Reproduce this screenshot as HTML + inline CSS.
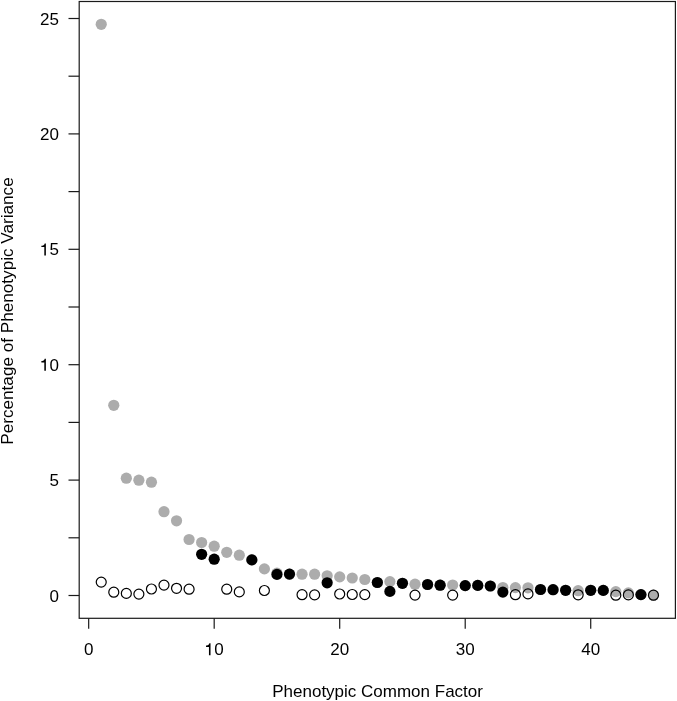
<!DOCTYPE html>
<html><head><meta charset="utf-8"><style>
html,body{margin:0;padding:0;background:#fff;}
svg{display:block;will-change:transform;}
text{font-family:"Liberation Sans",sans-serif;font-size:17px;fill:#000;}
</style></head><body>
<svg width="677" height="701" viewBox="0 0 677 701">
<rect x="0" y="0" width="677" height="701" fill="#fff"/>
<circle cx="101.23" cy="24.30" r="5.6" fill="#acacac"/>
<circle cx="113.78" cy="405.30" r="5.6" fill="#acacac"/>
<circle cx="126.33" cy="478.20" r="5.6" fill="#acacac"/>
<circle cx="138.88" cy="480.20" r="5.6" fill="#acacac"/>
<circle cx="151.44" cy="482.20" r="5.6" fill="#acacac"/>
<circle cx="163.99" cy="511.70" r="5.6" fill="#acacac"/>
<circle cx="176.54" cy="520.80" r="5.6" fill="#acacac"/>
<circle cx="189.09" cy="539.50" r="5.6" fill="#acacac"/>
<circle cx="201.64" cy="542.50" r="5.6" fill="#acacac"/>
<circle cx="214.19" cy="546.20" r="5.6" fill="#acacac"/>
<circle cx="226.74" cy="552.30" r="5.6" fill="#acacac"/>
<circle cx="239.29" cy="555.20" r="5.6" fill="#acacac"/>
<circle cx="251.84" cy="559.90" r="5.6" fill="#acacac"/>
<circle cx="264.39" cy="568.90" r="5.6" fill="#acacac"/>
<circle cx="276.95" cy="573.10" r="5.6" fill="#acacac"/>
<circle cx="289.50" cy="574.20" r="5.6" fill="#acacac"/>
<circle cx="302.05" cy="574.20" r="5.6" fill="#acacac"/>
<circle cx="314.60" cy="574.20" r="5.6" fill="#acacac"/>
<circle cx="327.15" cy="575.80" r="5.6" fill="#acacac"/>
<circle cx="339.70" cy="576.90" r="5.6" fill="#acacac"/>
<circle cx="352.25" cy="578.00" r="5.6" fill="#acacac"/>
<circle cx="364.80" cy="579.50" r="5.6" fill="#acacac"/>
<circle cx="377.35" cy="582.50" r="5.6" fill="#acacac"/>
<circle cx="389.90" cy="581.60" r="5.6" fill="#acacac"/>
<circle cx="402.45" cy="583.30" r="5.6" fill="#acacac"/>
<circle cx="415.01" cy="584.20" r="5.6" fill="#acacac"/>
<circle cx="427.56" cy="584.50" r="5.6" fill="#acacac"/>
<circle cx="440.11" cy="585.20" r="5.6" fill="#acacac"/>
<circle cx="452.66" cy="585.00" r="5.6" fill="#acacac"/>
<circle cx="465.21" cy="585.60" r="5.6" fill="#acacac"/>
<circle cx="477.76" cy="585.40" r="5.6" fill="#acacac"/>
<circle cx="490.31" cy="586.00" r="5.6" fill="#acacac"/>
<circle cx="502.86" cy="587.50" r="5.6" fill="#acacac"/>
<circle cx="515.41" cy="587.60" r="5.6" fill="#acacac"/>
<circle cx="527.97" cy="587.80" r="5.6" fill="#acacac"/>
<circle cx="540.52" cy="589.50" r="5.6" fill="#acacac"/>
<circle cx="553.07" cy="589.70" r="5.6" fill="#acacac"/>
<circle cx="565.62" cy="590.30" r="5.6" fill="#acacac"/>
<circle cx="578.17" cy="590.70" r="5.6" fill="#acacac"/>
<circle cx="590.72" cy="590.30" r="5.6" fill="#acacac"/>
<circle cx="603.27" cy="590.40" r="5.6" fill="#acacac"/>
<circle cx="615.82" cy="591.60" r="5.6" fill="#acacac"/>
<circle cx="628.37" cy="592.90" r="5.6" fill="#acacac"/>
<circle cx="640.92" cy="594.60" r="5.6" fill="#acacac"/>
<circle cx="653.47" cy="595.20" r="5.6" fill="#acacac"/>
<circle cx="201.64" cy="554.30" r="5.6" fill="#000"/>
<circle cx="214.19" cy="559.20" r="5.6" fill="#000"/>
<circle cx="251.84" cy="559.90" r="5.6" fill="#000"/>
<circle cx="276.95" cy="574.40" r="5.6" fill="#000"/>
<circle cx="289.50" cy="574.10" r="5.6" fill="#000"/>
<circle cx="327.15" cy="582.80" r="5.6" fill="#000"/>
<circle cx="377.35" cy="582.50" r="5.6" fill="#000"/>
<circle cx="389.90" cy="591.40" r="5.6" fill="#000"/>
<circle cx="402.45" cy="583.30" r="5.6" fill="#000"/>
<circle cx="427.56" cy="584.50" r="5.6" fill="#000"/>
<circle cx="440.11" cy="585.20" r="5.6" fill="#000"/>
<circle cx="465.21" cy="585.60" r="5.6" fill="#000"/>
<circle cx="477.76" cy="585.40" r="5.6" fill="#000"/>
<circle cx="490.31" cy="586.00" r="5.6" fill="#000"/>
<circle cx="502.86" cy="592.10" r="5.6" fill="#000"/>
<circle cx="540.52" cy="589.50" r="5.6" fill="#000"/>
<circle cx="553.07" cy="589.70" r="5.6" fill="#000"/>
<circle cx="565.62" cy="590.30" r="5.6" fill="#000"/>
<circle cx="590.72" cy="590.30" r="5.6" fill="#000"/>
<circle cx="603.27" cy="590.40" r="5.6" fill="#000"/>
<circle cx="640.92" cy="594.60" r="5.6" fill="#000"/>
<circle cx="101.23" cy="582.10" r="5.0" fill="none" stroke="#000" stroke-width="1.2"/>
<circle cx="113.78" cy="592.20" r="5.0" fill="none" stroke="#000" stroke-width="1.2"/>
<circle cx="126.33" cy="593.40" r="5.0" fill="none" stroke="#000" stroke-width="1.2"/>
<circle cx="138.88" cy="594.10" r="5.0" fill="none" stroke="#000" stroke-width="1.2"/>
<circle cx="151.44" cy="589.00" r="5.0" fill="none" stroke="#000" stroke-width="1.2"/>
<circle cx="163.99" cy="585.10" r="5.0" fill="none" stroke="#000" stroke-width="1.2"/>
<circle cx="176.54" cy="588.30" r="5.0" fill="none" stroke="#000" stroke-width="1.2"/>
<circle cx="189.09" cy="589.20" r="5.0" fill="none" stroke="#000" stroke-width="1.2"/>
<circle cx="226.74" cy="589.20" r="5.0" fill="none" stroke="#000" stroke-width="1.2"/>
<circle cx="239.29" cy="591.90" r="5.0" fill="none" stroke="#000" stroke-width="1.2"/>
<circle cx="264.39" cy="590.50" r="5.0" fill="none" stroke="#000" stroke-width="1.2"/>
<circle cx="302.05" cy="594.70" r="5.0" fill="none" stroke="#000" stroke-width="1.2"/>
<circle cx="314.60" cy="594.90" r="5.0" fill="none" stroke="#000" stroke-width="1.2"/>
<circle cx="339.70" cy="594.00" r="5.0" fill="none" stroke="#000" stroke-width="1.2"/>
<circle cx="352.25" cy="594.50" r="5.0" fill="none" stroke="#000" stroke-width="1.2"/>
<circle cx="364.80" cy="594.60" r="5.0" fill="none" stroke="#000" stroke-width="1.2"/>
<circle cx="415.01" cy="595.10" r="5.0" fill="none" stroke="#000" stroke-width="1.2"/>
<circle cx="452.66" cy="595.10" r="5.0" fill="none" stroke="#000" stroke-width="1.2"/>
<circle cx="515.41" cy="594.70" r="5.0" fill="none" stroke="#000" stroke-width="1.2"/>
<circle cx="527.97" cy="593.90" r="5.0" fill="none" stroke="#000" stroke-width="1.2"/>
<circle cx="578.17" cy="594.80" r="5.0" fill="none" stroke="#000" stroke-width="1.2"/>
<circle cx="615.82" cy="595.20" r="5.0" fill="none" stroke="#000" stroke-width="1.2"/>
<circle cx="628.37" cy="594.90" r="5.0" fill="none" stroke="#000" stroke-width="1.2"/>
<circle cx="653.47" cy="595.20" r="5.0" fill="none" stroke="#000" stroke-width="1.2"/>
<rect x="79.2" y="1.5" width="596.20" height="616.80" fill="none" stroke="#1a1a1a" stroke-width="1.2"/>
<line x1="88.68" y1="618.3" x2="88.68" y2="628.7" stroke="#1a1a1a" stroke-width="1.2"/>
<text x="83.95" y="655.20">0</text>
<line x1="214.19" y1="618.3" x2="214.19" y2="628.7" stroke="#1a1a1a" stroke-width="1.2"/>
<path transform="translate(204.74,655.20) scale(0.017,-0.017)" d="M248 0L340 0L340 703L270 703C260 640 222 598 172 586C142 579 105 575 75 573L75 489L248 489Z" fill="#000"/><text x="214.19" y="655.20">0</text>
<line x1="339.70" y1="618.3" x2="339.70" y2="628.7" stroke="#1a1a1a" stroke-width="1.2"/>
<text x="330.25" y="655.20">2</text><text x="339.70" y="655.20">0</text>
<line x1="465.21" y1="618.3" x2="465.21" y2="628.7" stroke="#1a1a1a" stroke-width="1.2"/>
<text x="455.76" y="655.20">3</text><text x="465.21" y="655.20">0</text>
<line x1="590.72" y1="618.3" x2="590.72" y2="628.7" stroke="#1a1a1a" stroke-width="1.2"/>
<text x="581.27" y="655.20">4</text><text x="590.72" y="655.20">0</text>
<line x1="68.5" y1="595.50" x2="79.2" y2="595.50" stroke="#1a1a1a" stroke-width="1.2"/>
<text x="49.55" y="601.60">0</text>
<line x1="68.5" y1="537.80" x2="79.2" y2="537.80" stroke="#1a1a1a" stroke-width="1.2"/>
<line x1="68.5" y1="480.10" x2="79.2" y2="480.10" stroke="#1a1a1a" stroke-width="1.2"/>
<text x="49.55" y="486.20">5</text>
<line x1="68.5" y1="422.40" x2="79.2" y2="422.40" stroke="#1a1a1a" stroke-width="1.2"/>
<line x1="68.5" y1="364.70" x2="79.2" y2="364.70" stroke="#1a1a1a" stroke-width="1.2"/>
<path transform="translate(40.10,370.80) scale(0.017,-0.017)" d="M248 0L340 0L340 703L270 703C260 640 222 598 172 586C142 579 105 575 75 573L75 489L248 489Z" fill="#000"/><text x="49.55" y="370.80">0</text>
<line x1="68.5" y1="307.00" x2="79.2" y2="307.00" stroke="#1a1a1a" stroke-width="1.2"/>
<line x1="68.5" y1="249.30" x2="79.2" y2="249.30" stroke="#1a1a1a" stroke-width="1.2"/>
<path transform="translate(40.10,255.40) scale(0.017,-0.017)" d="M248 0L340 0L340 703L270 703C260 640 222 598 172 586C142 579 105 575 75 573L75 489L248 489Z" fill="#000"/><text x="49.55" y="255.40">5</text>
<line x1="68.5" y1="191.60" x2="79.2" y2="191.60" stroke="#1a1a1a" stroke-width="1.2"/>
<line x1="68.5" y1="133.90" x2="79.2" y2="133.90" stroke="#1a1a1a" stroke-width="1.2"/>
<text x="40.10" y="140.00">2</text><text x="49.55" y="140.00">0</text>
<line x1="68.5" y1="76.20" x2="79.2" y2="76.20" stroke="#1a1a1a" stroke-width="1.2"/>
<line x1="68.5" y1="18.50" x2="79.2" y2="18.50" stroke="#1a1a1a" stroke-width="1.2"/>
<text x="40.10" y="24.60">2</text><text x="49.55" y="24.60">5</text>
<text x="377.6" y="696.5" text-anchor="middle">Phenotypic Common Factor</text>
<text transform="translate(13.4,311.0) rotate(-90)" x="0" y="0" text-anchor="middle" style="font-size:17.15px">Percentage of Phenotypic Variance</text>
</svg>
</body></html>
